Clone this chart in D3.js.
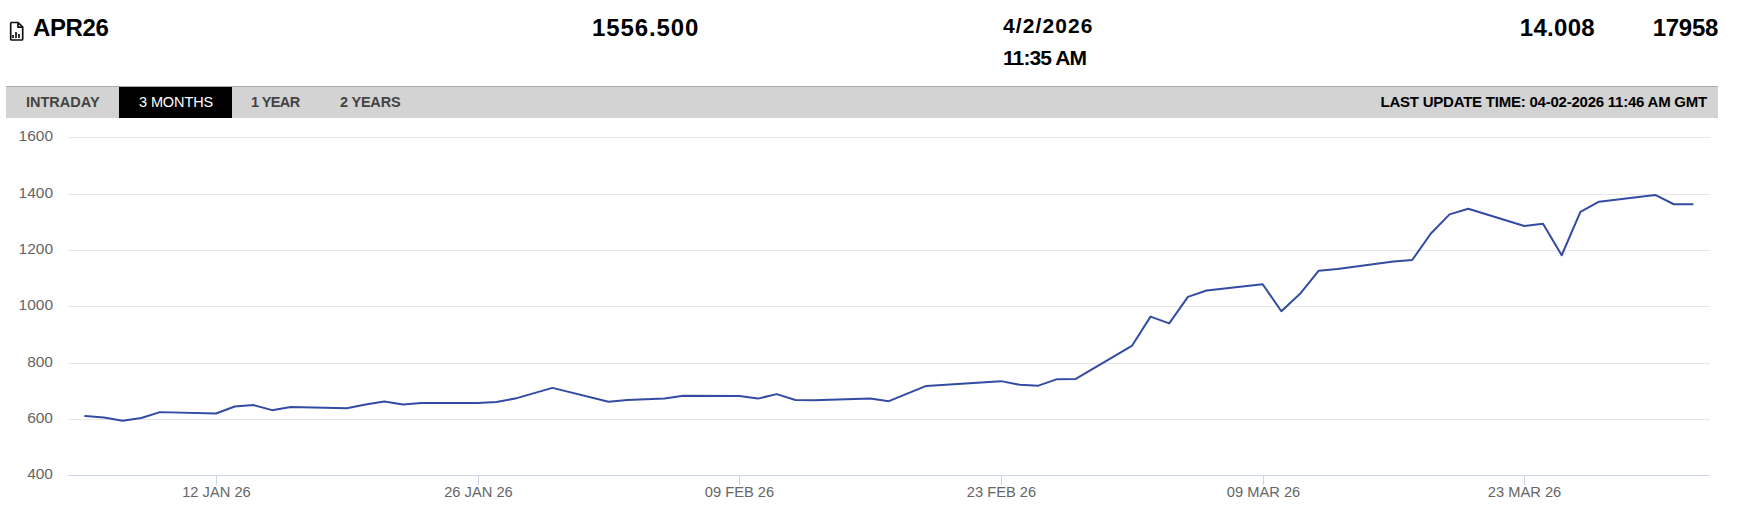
<!DOCTYPE html>
<html><head><meta charset="utf-8">
<script src="https://cdn.jsdelivr.net/npm/d3@7/dist/d3.min.js"></script>
<style>
html,body{margin:0;padding:0;background:#fff;overflow:hidden}
svg{display:block;font-family:"Liberation Sans",Arial,sans-serif}
</style></head><body><svg id="c" width="1761" height="520"></svg>
<script>
const dates = ["2026-01-05","2026-01-06","2026-01-07","2026-01-08","2026-01-09","2026-01-12","2026-01-13","2026-01-14","2026-01-15","2026-01-16","2026-01-19","2026-01-20","2026-01-21","2026-01-22","2026-01-23","2026-01-26","2026-01-27","2026-01-28","2026-01-30","2026-02-02","2026-02-03","2026-02-04","2026-02-05","2026-02-06","2026-02-09","2026-02-10","2026-02-11","2026-02-12","2026-02-13","2026-02-16","2026-02-17","2026-02-19","2026-02-23","2026-02-24","2026-02-25","2026-02-26","2026-02-27","2026-03-02","2026-03-03","2026-03-04","2026-03-05","2026-03-06","2026-03-09","2026-03-10","2026-03-11","2026-03-12","2026-03-13","2026-03-16","2026-03-17","2026-03-18","2026-03-19","2026-03-20","2026-03-23","2026-03-24","2026-03-25","2026-03-26","2026-03-27","2026-03-30","2026-03-31","2026-04-01"];
const prices = [611,606,594,604,625,620,645,650,632,643,639,652,663,652,657,657,661,673,711,662,668,671,673,683,682,673,689,668,667,673,664,718,735,722,719,742,743,860,964,940,1034,1057,1079,983,1045,1127,1133,1160,1165,1259,1327,1347,1286,1294,1182,1336,1372,1396,1363,1363];
const yTicks = [400,600,800,1000,1200,1400,1600];
const xTickDates = ["2026-01-12","2026-01-26","2026-02-09","2026-02-23","2026-03-09","2026-03-23"];
const tabs = ["INTRADAY","3 MONTHS","1 YEAR","2 YEARS"];
const tabStarts = [26,139,251,340];
const tabSpacing = [0,-0.1,-0.6,-0.2];
const headerContract = "APR26", headerPrice = "1556.500", headerDate = "4/2/2026", headerTime = "11:35 AM", headerChange = "14.008", headerVolume = "17958";
const updateText = "LAST UPDATE TIME: 04-02-2026 11:46 AM GMT";

const svg = d3.select("#c");
const parse = d3.utcParse("%Y-%m-%d");
const fmt = d3.utcFormat("%d %b %y");
const L = 68, R = 1710, T = 137.5, B = 475.5;
const DAY = 86400000;
const x0 = parse("2026-01-05").getTime();
const pxPerDay = 18.69, startX = 85.2;
const x = d3.scaleUtc()
  .domain([new Date(x0-(startX-L)/pxPerDay*DAY), new Date(x0+(R-startX)/pxPerDay*DAY)])
  .range([L,R]);
const y = d3.scaleLinear().domain([400,1600]).range([B,T]);

function txt(s,xp,yp,size,weight,fill,ls,anchor){
  return svg.append("text").text(s).attr("x",xp).attr("y",yp).attr("font-size",size)
    .attr("font-weight",weight).attr("fill",fill).attr("letter-spacing",ls||0).attr("text-anchor",anchor||"start");
}
// header
const ic = svg.append("g").attr("fill","none").attr("stroke","#111").attr("stroke-width",1.7);
ic.append("path").attr("d","M10.7 22.5 h7.5 l4.5 4.5 v12 a1 1 0 0 1 -1 1 h-10 a1 1 0 0 1 -1 -1 v-15.5 a1 1 0 0 1 1 -1 z M18 22.5 v4.7 h4.7");
ic.append("path").attr("d","M13 38 v-3 M16 38 v-6 M19 38 v-4");
txt(headerContract,33,36,24,700,"#000",-0.4);
txt(headerPrice,592,36,24,700,"#000",0.9);
txt(headerDate,1003,33,21,700,"#000",1.1);
txt(headerTime,1003,65,21,700,"#000",-0.9);
txt(headerChange,1595,36,24,700,"#000",0.3,"end");
txt(headerVolume,1718,36,24,700,"#000",-0.3,"end");
// band
svg.append("rect").attr("x",6).attr("y",86).attr("width",1712).attr("height",32).attr("fill","#d3d3d3");
svg.append("rect").attr("x",6).attr("y",86).attr("width",1712).attr("height",1).attr("fill","#acacac");
svg.append("rect").attr("x",119).attr("y",87).attr("width",113).attr("height",31).attr("fill","#000");
tabs.forEach((t,i)=>txt(t,tabStarts[i],107,14.5,i===1?400:700,i===1?"#fff":"#444",tabSpacing[i]));
txt(updateText,1707,107,15,700,"#000",-0.23,"end");
// grid + y axis
const gy = svg.append("g").attr("transform",`translate(${L},0)`)
  .call(d3.axisLeft(y).tickValues(yTicks).tickSize(-(R-L)).tickPadding(15).tickFormat(d3.format("d")));
gy.select(".domain").remove();
gy.selectAll(".tick").attr("transform",d=>`translate(0,${Math.round(y(d)-0.1)+0.5})`);
gy.selectAll(".tick line").attr("stroke",d=>d===400?"#ccd6eb":"#e6e6e6");
gy.selectAll(".tick text").attr("fill","#666").attr("font-size",15.5).attr("font-family","inherit").attr("y",-1.5);
// x axis
const gx = svg.append("g").attr("transform",`translate(0,${B-0.5})`)
  .call(d3.axisBottom(x).tickValues(xTickDates.map(parse)).tickSize(10).tickPadding(2).tickFormat(d=>fmt(d).toUpperCase()));
gx.select(".domain").remove();
gx.selectAll(".tick").attr("transform",d=>`translate(${Math.round(x(d))+0.5},0)`);
gx.selectAll(".tick line").attr("stroke","#ccd6eb");
gx.selectAll(".tick text").attr("fill","#666").attr("font-size",14.7).attr("font-family","inherit");
// line
const line = d3.line().x((d,i)=>x(parse(dates[i]))).y(d=>y(d));
svg.append("path").datum(prices).attr("d",line).attr("fill","none").attr("stroke","#334ba3").attr("stroke-width",2).attr("stroke-linejoin","round").attr("stroke-linecap","round");
</script></body></html>
